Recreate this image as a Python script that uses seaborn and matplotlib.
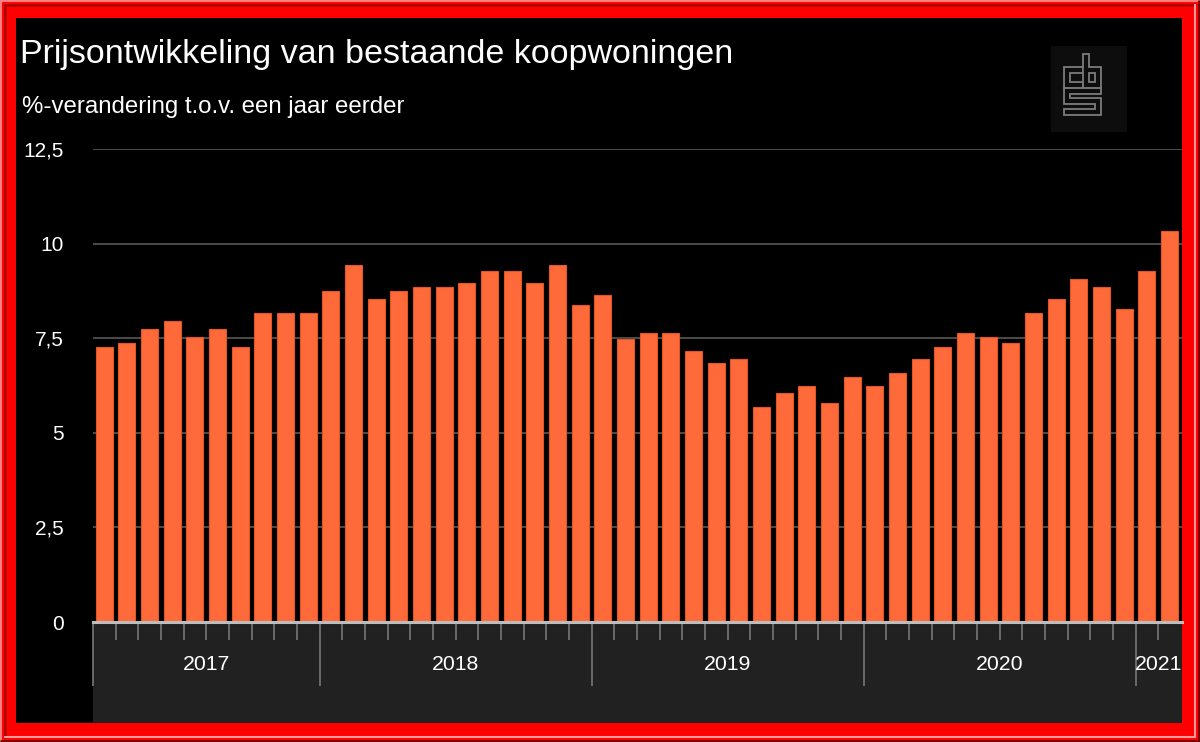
import numpy as np
import pandas as pd
import matplotlib
matplotlib.use("Agg")
import matplotlib.pyplot as plt
from matplotlib.patches import Rectangle
import seaborn as sns

# ---------------- data ----------------
months = [
    "2017-03", "2017-04", "2017-05", "2017-06", "2017-07", "2017-08", "2017-09", "2017-10", "2017-11", "2017-12",
    "2018-01", "2018-02", "2018-03", "2018-04", "2018-05", "2018-06", "2018-07", "2018-08", "2018-09", "2018-10", "2018-11", "2018-12",
    "2019-01", "2019-02", "2019-03", "2019-04", "2019-05", "2019-06", "2019-07", "2019-08", "2019-09", "2019-10", "2019-11", "2019-12",
    "2020-01", "2020-02", "2020-03", "2020-04", "2020-05", "2020-06", "2020-07", "2020-08", "2020-09", "2020-10", "2020-11", "2020-12",
    "2021-01", "2021-02",
]
values = [
    7.26, 7.37, 7.75, 7.96, 7.54, 7.75, 7.26, 8.16, 8.16, 8.16,
    8.74, 9.44, 8.53, 8.74, 8.85, 8.85, 8.96, 9.27, 9.27, 8.96, 9.43, 8.37,
    8.64, 7.47, 7.63, 7.63, 7.16, 6.84, 6.94, 5.67, 6.04, 6.25, 5.78, 6.47,
    6.25, 6.58, 6.94, 7.26, 7.63, 7.53, 7.37, 8.16, 8.53, 9.06, 8.85, 8.27,
    9.27, 10.33,
]
years = ["2017", "2018", "2019", "2020", "2021"]
yticks = [0, 2.5, 5, 7.5, 10, 12.5]
ytick_labels = ["0", "2,5", "5", "7,5", "10", "12,5"]
title = "Prijsontwikkeling van bestaande koopwoningen"
subtitle = "%-verandering t.o.v. een jaar eerder"

df = pd.DataFrame({"maand": months, "waarde": values})
df["jaar"] = df["maand"].str[:4]

# ---------------- figure ----------------
W, H = 1200, 742
fig = plt.figure(figsize=(W / 100, H / 100), dpi=100)
fig.patch.set_facecolor("#ff0000")
plt.rcParams["font.family"] = ["Liberation Sans", "DejaVu Sans"]

# background / decoration layer in pixel coordinates
bg = fig.add_axes([0, 0, 1, 1], zorder=0)
bg.set_xlim(0, W)
bg.set_ylim(H, 0)
bg.axis("off")
# bevelled red frame
bg.plot([0, W], [1, 1], color="#ff8080", lw=1.5, solid_capstyle="butt")
bg.plot([1, 1], [0, H], color="#ff8080", lw=1.5, solid_capstyle="butt")
bg.plot([4, W - 4], [4.5, 4.5], color="#a80000", lw=1.8, solid_capstyle="butt")
bg.plot([4.5, 4.5], [4, H - 4], color="#a80000", lw=1.8, solid_capstyle="butt")
bg.plot([4, W - 4], [737, 737], color="#ff9a9a", lw=1.5, solid_capstyle="butt")
bg.plot([1194.5, 1194.5], [4, H - 4], color="#ff9a9a", lw=1.5, solid_capstyle="butt")
bg.plot([0, W], [741, 741], color="#7a0000", lw=2, solid_capstyle="butt")
bg.plot([1199, 1199], [0, H], color="#7a0000", lw=2, solid_capstyle="butt")
# inner black panel
bg.add_patch(Rectangle((16, 18), 1166, 705, fc="black", ec="none"))
# dark x-axis band
bg.add_patch(Rectangle((93, 623), 1089, 100, fc="#212121", ec="none"))
# logo box
bg.add_patch(Rectangle((1051, 46), 76, 86, fc="#0d0d0d", ec="none"))
logo_paths = [
    ([1080, 1067, 1067, 1080], [70, 70, 85, 85]),
    ([1086, 1086, 1098, 1098, 1086], [57, 85, 85, 70, 70]),
    ([1098, 1067, 1067, 1098, 1098, 1067], [91, 91, 101, 101, 112, 112]),
]
for xs, ys in logo_paths:
    bg.plot(xs, ys, color="#7c7c7c", lw=5.6, solid_joinstyle="miter", solid_capstyle="projecting")
for xs, ys in logo_paths:
    bg.plot(xs, ys, color="#0d0d0d", lw=3.0, solid_joinstyle="miter", solid_capstyle="projecting")

# ---------------- chart ----------------
ax = fig.add_axes([93 / W, (H - 622) / H, (1182 - 93) / W, (622 - 149) / H], zorder=2)
ax.set_facecolor("none")
sns.barplot(data=df, x="maand", y="waarde", color="#ff6a3a", saturation=1,
            width=0.75, edgecolor="#e4551f", linewidth=0.8, ax=ax)

ax.set_xlim(-0.5, 47.55)
ax.set_ylim(0, 12.5)
ax.set_xlabel("")
ax.set_ylabel("")

ax.set_yticks(yticks, ytick_labels)
ax.tick_params(axis="y", length=0, pad=21, labelcolor="white", labelsize=15)
ax.grid(axis="y", color="#606060", lw=1.1)
ax.grid(axis="x", visible=False)
ax.set_axisbelow(True)

n = len(months)
year_first = df.groupby("jaar").apply(lambda g: g.index.min(), include_groups=False)
year_last = df.groupby("jaar").apply(lambda g: g.index.max(), include_groups=False)
major = [year_first[y] - 0.5 for y in years]
minor = [i + 0.5 for i in range(n - 1) if (i + 0.5) not in major]
ax.set_xticks(major)
ax.set_xticks(minor, minor=True)
ax.tick_params(axis="x", which="major", length=46, width=1.2, color="#777777", labelbottom=False)
ax.tick_params(axis="x", which="minor", length=13, width=1.2, color="#777777", labelbottom=False)

for s in ["top", "left", "right"]:
    ax.spines[s].set_visible(False)
ax.spines["bottom"].set_color("#bdbdbd")
ax.spines["bottom"].set_linewidth(2.2)
ax.spines["bottom"].set_zorder(3)

for y in years:
    cx = (year_first[y] + year_last[y]) / 2
    ax.text(cx, -0.089, y, transform=ax.get_xaxis_transform(), ha="center", va="center",
            color="white", fontsize=15.3)

fig.text(20 / W, 1 - 63 / H, title, color="white", fontsize=24.5, va="baseline", ha="left")
fig.text(22 / W, 1 - 113 / H, subtitle, color="white", fontsize=17.3, va="baseline", ha="left")

fig.savefig("out.png", dpi=100, facecolor=fig.get_facecolor())
